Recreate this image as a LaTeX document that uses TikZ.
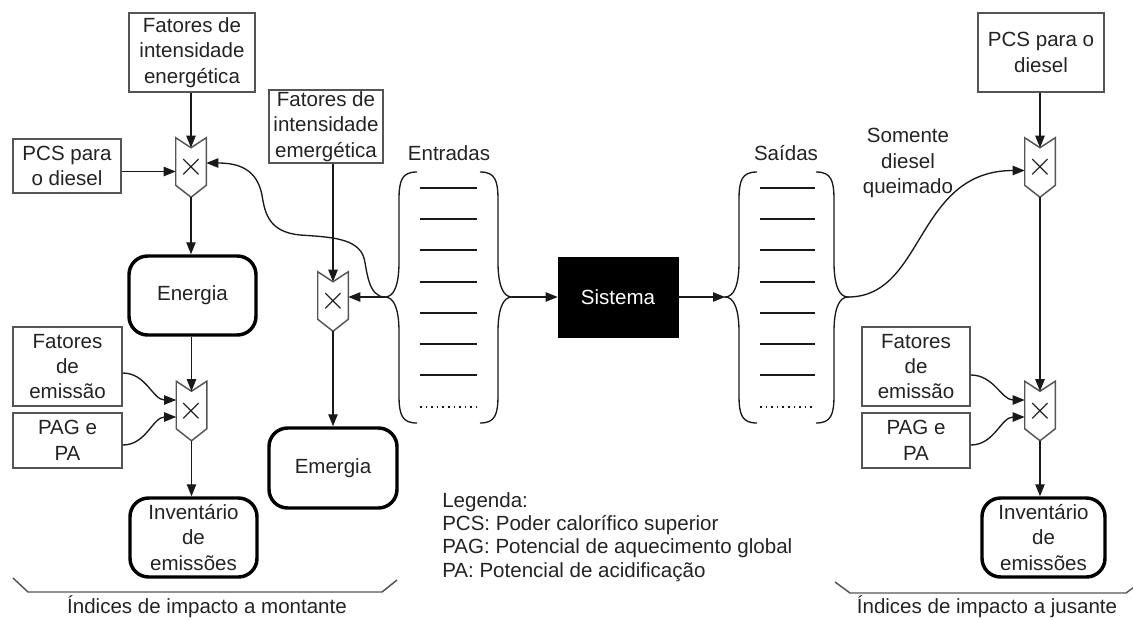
\documentclass[tikz,border=0pt]{standalone}
\usepackage{fontspec}
\setmainfont{Liberation Sans}
\usetikzlibrary{arrows.meta,calc}
\definecolor{txt}{RGB}{35,35,35}
\definecolor{boxc}{RGB}{85,85,85}
\definecolor{linec}{RGB}{25,25,25}
\newcommand{\fs}{\fontsize{15.4}{19.1}\selectfont}
\newcommand{\multoutline}[1]{%
  \draw[boxline] (#1.north west) -- ($(#1.north)+(0,10)$) -- (#1.north east) -- ($(#1.south east)+(0,-12)$) -- (#1.south) -- ($(#1.south west)+(0,-12)$) -- cycle;
  \coordinate (#1n) at ($(#1.north)+(0,10)$);}
\begin{document}
\begin{tikzpicture}[x=0.75pt,y=-0.75pt,
  box/.style={draw=boxc, line width=1.1pt, align=center, inner sep=0pt, font=\fs, text=txt},
  rbox/.style={draw=black, line width=2.6pt, rounded corners=14pt, align=center, inner sep=0pt, font=\fs, text=txt},
  mult/.style={minimum width=22.5pt, minimum height=44.25pt, inner sep=0pt, font=\fontsize{24}{24}\selectfont, text=linec},
  boxline/.style={draw=boxc, line width=1.1pt},
  arr/.style={draw=linec, line width=1pt, -{Triangle[length=9pt,width=7pt]}},
  lbl/.style={font=\fs, text=txt, align=center, inner sep=0pt},
  listline/.style={draw=linec, line width=1pt},
  bracepath/.style={draw=linec, line width=1pt},
  bracket/.style={draw=boxc, line width=1.1pt},
  lbrace/.pic={\draw[bracepath] (32,-125) .. controls (17,-125) and (14,-117) .. (14,-97) -- (14,-35) .. controls (14,-12) and (9,0) .. (0,0) .. controls (9,0) and (14,12) .. (14,35) -- (14,98) .. controls (14,118) and (17,126) .. (32,126);}
]
\fill[white] (0,0) rectangle (1133,619);
\useasboundingbox (0,0) rectangle (1133,619);

% left column
\node[box, minimum width=94.5pt, minimum height=59.25pt] (fie1) at (192,52.5) {Fatores de\\intensidade\\energética};
\node[box, minimum width=81pt, minimum height=40.5pt] (pcs1) at (67,166) {PCS para\\o diesel};
\node[mult] (m1) at (191,167.5) {$\times$};
\node[rbox, minimum width=95.25pt, minimum height=59.25pt] (energia) at (192.5,295.5) {Energia};
\node[box, minimum width=81.75pt, minimum height=59.25pt] (emis1) at (67.5,366.5) {Fatores\\de\\emissão};
\node[box, minimum width=81.75pt, minimum height=41.25pt] (pag1) at (67.5,440.5) {PAG e\\PA};
\node[mult] (m3) at (191.5,411) {$\times$};
\node[rbox, minimum width=95.25pt, minimum height=59.25pt] (inv1) at (193.5,537.5) {Inventário\\de\\emissões};

% middle column
\node[box, minimum width=85.5pt, minimum height=54.75pt] (fiem) at (326,126.5) {Fatores de\\intensidade\\emergética};
\node[mult] (m2) at (333,301.5) {$\times$};
\node[rbox, minimum width=96pt, minimum height=60pt] (emergia) at (333,468) {Emergia};

% system
\node[draw=black, fill=black, text=white, font=\fs, minimum width=90pt, minimum height=60pt, inner sep=0pt] (sis) at (618,297) {Sistema};

% right column
\node[box, minimum width=94.5pt, minimum height=59.25pt] (pcs2) at (1041,52.5) {PCS para o\\diesel};
\node[mult] (m4) at (1040,167.5) {$\times$};
\node[box, minimum width=81pt, minimum height=59.25pt] (emis2) at (916,366.5) {Fatores\\de\\emissão};
\node[box, minimum width=81pt, minimum height=41.25pt] (pag2) at (916,440.5) {PAG e\\PA};
\node[mult] (m5) at (1040,411) {$\times$};
\node[rbox, minimum width=92.25pt, minimum height=59.25pt] (inv2) at (1043.5,537.5) {Inventário\\de\\emissões};

% labels
\node[lbl] (ent) at (449,153) {Entradas};
\node[lbl] (sai) at (786,153) {Saídas};
\node[lbl] (som) at (908,163) {Somente\\diesel\\queimado};
\node[lbl, anchor=west, align=left, font=\fontsize{15.4}{17.5}\selectfont] (leg) at (442,537) {Legenda:\\PCS: Poder calorífico superior\\PAG: Potencial de aquecimento global\\PA: Potencial de acidificação};
\node[lbl] (mont) at (207,607) {Índices de impacto a montante};
\node[lbl] (jus) at (987,607) {Índices de impacto a jusante};

% multiplier outlines
\multoutline{m1}
\multoutline{m2}
\multoutline{m3}
\multoutline{m4}
\multoutline{m5}

% braces and lists
\coordinate (entL) at (385,297);
\coordinate (entR) at (512,297);
\coordinate (satL) at (725,297);
\coordinate (satR) at (848,297);
\pic at (entL) {lbrace};
\pic[xscale=-1] at (entR) {lbrace};
\pic at (satL) {lbrace};
\pic[xscale=-1] at (satR) {lbrace};
\foreach \yy in {188,219,250,282,313,344,375} {
  \draw[listline] (420,\yy) -- (477,\yy);
  \draw[listline] (760,\yy) -- (815,\yy);
}
\draw[listline, line width=1.2pt, dash pattern=on 1.2pt off 3pt] (420,407) -- (477,407);
\draw[listline, line width=1.2pt, dash pattern=on 1.2pt off 3pt] (760,407) -- (815,407);

% bottom brackets
\draw[bracket] (13,578) -- (28,592) -- (382,592) -- (397,580);
\draw[bracket] (835,582) -- (850,593) -- (1126,593) -- (1137,585);

% connection points
\coordinate (m1w) at ($(m1.west)+(0,4)$);
\coordinate (m1e) at ($(m1.east)+(0,-4.5)$);
\coordinate (m4w) at ($(m4.west)+(0,3)$);
\coordinate (m3a) at ($(m3.west)+(0,-11)$);
\coordinate (m3b) at ($(m3.west)+(0,6)$);
\coordinate (m5a) at ($(m5.west)+(0,-11)$);
\coordinate (m5b) at ($(m5.west)+(0,6)$);

% connectors left
\draw[arr] (fie1.south -| m1n) -- (m1n);
\draw[arr] (m1w -| pcs1.east) -- (m1w);
\draw[arr] (m1.south) -- (m1.south |- energia.north);
\draw[arr] (energia.south -| m3n) -- (m3n);
\draw[arr] (m3.south) -- (m3.south |- inv1.north);
\draw[arr] ($(emis1.east)+(0,6.5)$) to[out=0,in=180] (m3a);
\draw[arr] ($(pag1.east)+(0,4.5)$) to[out=0,in=180] (m3b);

% connectors middle
\draw[arr] (fiem.south -| m2n) -- (m2n);
\draw[arr] (m2.south) -- (m2.south |- emergia.north);
\draw[arr] (entL) -- (entL -| m2.east);
\draw[arr] (entL) .. controls (368,297) and (367,270) .. (364,258) .. controls (358,238) and (330,237) .. (300,235) .. controls (270,232) and (265,215) .. (262,195) .. controls (257,170) and (240,163) .. (m1e);
\draw[arr] (entR) -- (sis.west);
\draw[arr] (sis.east) -- (satL);

% connectors right
\draw[arr] (satR) .. controls (925,297) and (915,170.5) .. (m4w);
\draw[arr] (pcs2.south -| m4n) -- (m4n);
\draw[arr] (m4.south) -- (m5n);
\draw[arr] (m5.south) -- (m5.south |- inv2.north);
\draw[arr] ($(emis2.east)+(0,8.5)$) to[out=0,in=180] (m5a);
\draw[arr] ($(pag2.east)+(0,4.5)$) to[out=0,in=180] (m5b);
\end{tikzpicture}
\end{document}
